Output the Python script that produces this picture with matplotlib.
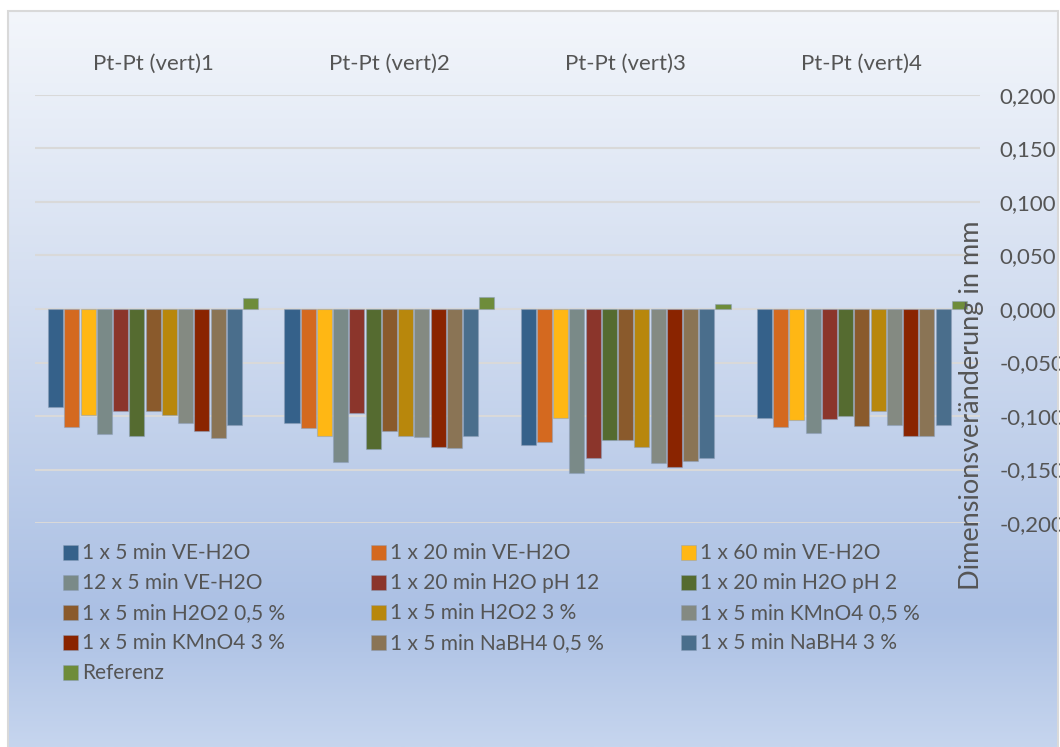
import matplotlib
matplotlib.use("Agg")
import matplotlib.pyplot as plt
import numpy as np
from matplotlib.colors import LinearSegmentedColormap
from matplotlib.patches import Rectangle
from matplotlib.ticker import FuncFormatter, MultipleLocator

plt.rcParams['font.family'] = ['Lato', 'DejaVu Sans']

groups = ["Pt-Pt (vert)1", "Pt-Pt (vert)2", "Pt-Pt (vert)3", "Pt-Pt (vert)4"]

series = [
    "1 x 5 min VE-H2O", "1 x 20 min VE-H2O", "1 x 60 min VE-H2O",
    "12 x 5 min VE-H2O", "1 x 20 min H2O pH 12", "1 x 20 min H2O pH 2",
    "1 x 5 min H2O2 0,5 %", "1 x 5 min H2O2 3 %", "1 x 5 min KMnO4 0,5 %",
    "1 x 5 min KMnO4 3 %", "1 x 5 min NaBH4 0,5 %", "1 x 5 min NaBH4 3 %",
    "Referenz",
]

# one row per series, one column per sample
values = [
    [-0.092, -0.107, -0.127, -0.102],
    [-0.110, -0.111, -0.124, -0.110],
    [-0.099, -0.119, -0.102, -0.104],
    [-0.117, -0.143, -0.153, -0.116],
    [-0.095, -0.097, -0.139, -0.103],
    [-0.119, -0.131, -0.122, -0.100],
    [-0.095, -0.114, -0.122, -0.109],
    [-0.099, -0.119, -0.129, -0.095],
    [-0.107, -0.120, -0.144, -0.108],
    [-0.114, -0.129, -0.148, -0.119],
    [-0.121, -0.130, -0.142, -0.119],
    [-0.108, -0.119, -0.139, -0.108],
    [0.010, 0.011, 0.005, 0.0075],
]

colors = [
    "#35618A", "#D4691F", "#FFB714", "#7A8A88", "#8B352B", "#556B30",
    "#8A5A2C", "#B8870C", "#848A82", "#8A2400", "#8A7455", "#4A6E8C",
    "#6E8C3A",
]

TEXT = "#555555"
W, H = 1060, 747

fig = plt.figure(figsize=(W / 100, H / 100), dpi=100)
fig.patch.set_facecolor("white")

# gradient chart area
bg = fig.add_axes([8 / W, 0, 1050 / W, 1 - 11 / H])
cmap = LinearSegmentedColormap.from_list(
    "bg", [(0.0, "#F3F6FB"), (0.40, "#D2DDF0"), (0.82, "#ABC0E4"), (1.0, "#C6D5EE")])
grad = np.linspace(0, 1, 256).reshape(-1, 1)
bg.imshow(grad, aspect="auto", cmap=cmap, extent=[0, 1, 0, 1], origin="upper")
bg.set_axis_off()
fig.add_artist(Rectangle((7.5 / W, -0.01), 1050.5 / W, 1 - 10.5 / H + 0.01,
                         transform=fig.transFigure, fill=False,
                         edgecolor="#D9D9D9", lw=1.5))

ax = fig.add_axes([35 / W, 1 - 523 / H, 945 / W, 428 / H])
ax.set_facecolor("none")

n = len(series)
pitch = 0.0687
width = 0.0636
x = np.arange(len(groups))
for i, (name, vals, c) in enumerate(zip(series, values, colors)):
    ax.bar(x + (i - (n - 1) / 2) * pitch, vals, width, color=c,
           edgecolor=(0.55, 0.62, 0.72, 0.5), linewidth=0.8, zorder=3)

ax.set_xlim(-0.5, len(groups) - 0.5)
ax.set_ylim(-0.2, 0.2)
ax.yaxis.set_major_locator(MultipleLocator(0.05))
ax.yaxis.set_major_formatter(FuncFormatter(lambda v, p: f"{v:.3f}".replace(".", ",")))
ax.grid(axis="y", color="#D9D9D9", lw=1.5, zorder=1)
for s in ax.spines.values():
    s.set_visible(False)

ax.yaxis.tick_right()
ax.tick_params(axis="y", length=0, pad=14, labelsize=16, labelcolor=TEXT)
ax.xaxis.tick_top()
ax.set_xticks(x)
ax.set_xticklabels(groups)
ax.tick_params(axis="x", length=0, pad=15, labelsize=16, labelcolor=TEXT)

fig.text(972 / W, 1 - 405 / H, "Dimensionsveränderung in mm", rotation=90,
         ha="center", va="center", fontsize=19.5, color=TEXT)

# legend laid out row by row in three columns
col_x = [63, 371, 681]
for i, (name, c) in enumerate(zip(series, colors)):
    px = col_x[i % 3]
    py = 553 + (i // 3) * 30
    fig.add_artist(Rectangle((px / W, 1 - (py + 7) / H), 15 / W, 15 / H,
                             transform=fig.transFigure, facecolor=c,
                             edgecolor=(0.55, 0.62, 0.72, 0.5), lw=0.6))
    fig.text((px + 19) / W, 1 - py / H, name, ha="left", va="center",
             fontsize=15, color=TEXT)

fig.savefig("out.png", dpi=100)
